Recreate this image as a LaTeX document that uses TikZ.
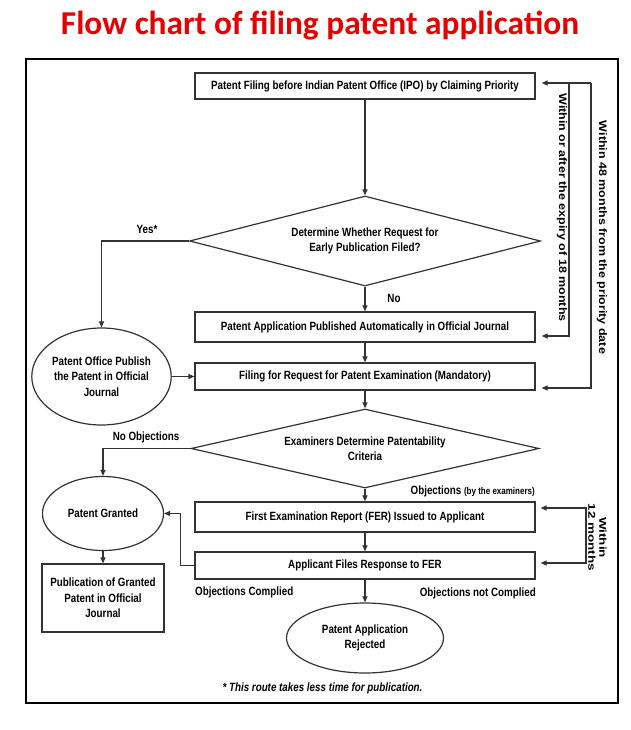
\documentclass[tikz,border=0pt]{standalone}
\usepackage{fontspec}
\setmainfont{Liberation Sans}
\newfontfamily\nar[FakeStretch=0.82]{Liberation Sans}
\newfontfamily\wide[FakeStretch=1.15]{Liberation Sans}
\newfontfamily\wider[FakeStretch=1.35]{Liberation Sans}
\newfontfamily\ttl{Carlito}
\usetikzlibrary{shapes.geometric,arrows.meta}
\definecolor{ln}{HTML}{333333}
\definecolor{ttlred}{HTML}{E60000}

\begin{document}
\begin{tikzpicture}[x=1bp,y=-1bp,
  every node/.style={inner sep=0pt},
  txt/.style={font=\nar\bfseries\fontsize{12}{15.5}\selectfont, align=center},
  stepbox/.style={txt, draw=ln, line width=1.2bp, minimum width=340bp},
  decide/.style={txt, draw=ln, line width=1.2bp, diamond, aspect=3.9},
  oval/.style={txt, draw=ln, line width=1.2bp, ellipse},
  arr/.style={draw=ln, line width=1.1bp, -{Triangle[length=6bp,width=5bp]}},
  lbl/.style={font=\nar\bfseries\fontsize{12}{14}\selectfont},
  side/.style={font=\wide\bfseries\fontsize{10.9}{12}\selectfont, rotate=-90, align=center},
]
\useasboundingbox (0,0) rectangle (631,730);
\fill[white] (0,0) rectangle (631,730);

% title and frame
\node[font=\ttl\bfseries\fontsize{33.5}{36}\selectfont, text=ttlred] (title) at (320,26) {Flow chart of filing patent application};
\node[draw=black, line width=2bp, minimum width=592bp, minimum height=644bp] (frame) at (322,381) {};

% main column
\node[stepbox, minimum height=26bp] (file) at (365,86) {Patent Filing before Indian Patent Office (IPO) by Claiming Priority};
\node[decide, minimum width=351bp, minimum height=90bp] (early) at (365,241) {Determine Whether Request for\\Early Publication Filed?};
\node[stepbox, minimum height=30bp] (auto) at (365,327) {Patent Application Published Automatically in Official Journal};
\node[stepbox, minimum height=27bp] (exam) at (365,376.5) {Filing for Request for Patent Examination (Mandatory)};
\node[decide, minimum width=348bp, minimum height=79bp] (crit) at (365,448.5) {Examiners Determine Patentability\\Criteria};
\node[stepbox, minimum height=30bp] (fer) at (365,517) {First Examination Report (FER) Issued to Applicant};
\node[stepbox, minimum height=27bp] (resp) at (365,565.5) {Applicant Files Response to FER};
\node[oval, minimum width=157bp, minimum height=70bp] (reject) at (365,638) {Patent Application\\Rejected};

% left column
\node[oval, minimum width=139bp, minimum height=97bp] (office) at (101.5,376.5) {Patent Office Publish\\the Patent in Official\\Journal};
\node[oval, minimum width=121bp, minimum height=74bp] (grant) at (103,513.5) {Patent Granted};
\node[stepbox, minimum width=122bp, minimum height=68bp] (gazette) at (103,598) {Publication of Granted\\Patent in Official\\Journal};

% flow connectors
\draw[arr] (file) -- (early);
\draw[arr] (early) -- (auto);
\draw[arr] (auto) -- (exam);
\draw[arr] (exam) -- (crit);
\draw[arr] (crit) -- (fer);
\draw[arr] (fer) -- (resp);
\draw[arr] (resp) -- (reject);
\draw[arr] (early.west) -| (office.north);
\draw[arr] (office.east) -- (exam.west);
\draw[arr] (crit.west) -| (grant.north);
\draw[arr] (resp.west) -- ++(-14,0) |- (grant.east);
\draw[arr] (grant) -- (gazette);

% time-limit brackets on the right
\coordinate (o1) at (591,83);
\coordinate (o2) at (591,388);
\coordinate (i1) at (569,83);
\coordinate (i2) at (569,336);
\coordinate (m1) at (586,508);
\coordinate (m2) at (586,563);
\draw[arr, shorten >=6bp] (o1) -- (o2) -- (o2 -| exam.east);
\draw[arr, shorten >=6bp] (o1) -- (o1 -| file.east);
\draw[arr, shorten >=6bp] (i1) -- (i2) -- (i2 -| auto.east);
\draw[arr, {Triangle[length=6bp,width=5bp]}-{Triangle[length=6bp,width=5bp]}, shorten >=5bp, shorten <=5bp] (m1 -| fer.east) -- (m1) -- (m2) -- (m2 -| resp.east);

\node[side] (t18) at (562,207.5) {Within or after the expiry of 18 months};
\node[side] (t48) at (602,237.5) {Within 48 months from the priority date};
\node[side, font=\wider\bfseries\fontsize{10}{11}\selectfont] (t12) at (597.5,537.5) {Within\\12 months};

% branch labels
\node[lbl] (yes) at (147,229) {Yes*};
\node[lbl] (no) at (394,298) {No};
\node[lbl] (noobj) at (146,437) {No Objections};
\node[lbl, anchor=east] (obj) at (535,491) {Objections {\fontsize{9.8}{11}\selectfont(by the examiners)}};
\node[lbl, anchor=west] (ok) at (195,592) {Objections Complied};
\node[lbl, anchor=east] (nok) at (536,593) {Objections not Complied};
\node[lbl, font=\nar\bfseries\itshape\fontsize{12}{14}\selectfont] (note) at (322.5,688) {* This route takes less time for publication.};
\end{tikzpicture}
\end{document}
